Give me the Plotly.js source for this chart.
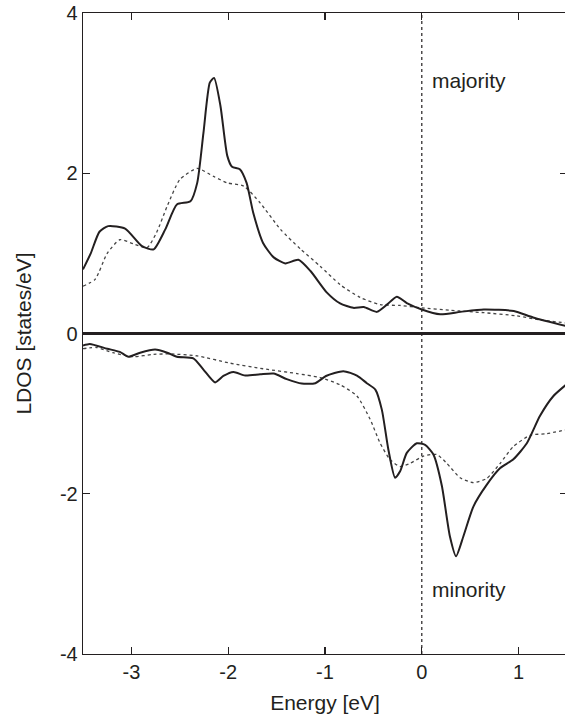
<!DOCTYPE html>
<html>
<head>
<meta charset="utf-8">
<script src="https://cdn.plot.ly/plotly-3.0.1.min.js"></script>
<style>html,body{margin:0;padding:0;overflow:hidden;background:#fff;}#chart{width:568px;height:726px;}</style>
</head>
<body>
<div id="chart"></div>
<script>
// Majority spin, solid curve
const majSolidE = [-3.5,-3.42,-3.33,-3.24,-3.065,-2.89,-2.77,-2.65,-2.53,-2.39,-2.32,-2.256,-2.19,-2.146,-2.08,-2.01,-1.96,-1.88,-1.81,-1.74,-1.64,-1.53,-1.41,-1.275,-1.15,-0.98,-0.844,-0.707,-0.60,-0.465,-0.36,-0.258,-0.155,0,0.19,0.40,0.64,0.95,1.15,1.5];
const majSolidD = [0.80,1.0,1.27,1.34,1.31,1.09,1.05,1.30,1.61,1.65,1.88,2.5,3.13,3.19,2.84,2.22,2.08,2.05,1.88,1.5,1.13,0.95,0.875,0.92,0.78,0.51,0.375,0.32,0.33,0.27,0.36,0.46,0.38,0.30,0.24,0.27,0.30,0.28,0.20,0.09];
// Majority spin, dotted curve
const majDotE = [-3.5,-3.375,-3.25,-3.12,-2.98,-2.84,-2.74,-2.63,-2.50,-2.32,-2.15,-2.01,-1.84,-1.67,-1.46,-1.25,-1.05,-0.844,-0.637,-0.43,-0.224,0,0.29,0.64,0.98,1.22,1.5];
const majDotD = [0.59,0.675,1.0,1.17,1.12,1.07,1.26,1.59,1.92,2.06,1.96,1.88,1.84,1.63,1.30,1.05,0.84,0.61,0.45,0.36,0.35,0.32,0.29,0.26,0.22,0.17,0.13];
// Minority spin, solid curve
const minSolidE = [-3.5,-3.43,-3.25,-3.12,-3.03,-2.91,-2.755,-2.63,-2.53,-2.36,-2.256,-2.135,-2.05,-1.946,-1.825,-1.67,-1.53,-1.395,-1.24,-1.10,-0.99,-0.81,-0.67,-0.568,-0.48,-0.413,-0.345,-0.276,-0.224,-0.155,-0.052,0.034,0.12,0.207,0.29,0.354,0.43,0.533,0.67,0.81,0.946,1.085,1.22,1.36,1.5];
const minSolidD = [-0.15,-0.13,-0.19,-0.23,-0.29,-0.24,-0.20,-0.24,-0.29,-0.31,-0.45,-0.61,-0.53,-0.48,-0.525,-0.51,-0.50,-0.57,-0.625,-0.62,-0.53,-0.47,-0.525,-0.62,-0.70,-0.95,-1.45,-1.80,-1.72,-1.49,-1.37,-1.39,-1.51,-1.90,-2.53,-2.78,-2.53,-2.16,-1.89,-1.68,-1.57,-1.37,-1.03,-0.78,-0.63];
// Minority spin, dotted curve
const minDotE = [-3.5,-3.36,-3.19,-2.98,-2.77,-2.60,-2.32,-1.98,-1.64,-1.29,-1.05,-0.844,-0.67,-0.534,-0.43,-0.327,-0.224,-0.12,0.017,0.155,0.258,0.396,0.533,0.67,0.81,0.946,1.12,1.29,1.5];
const minDotD = [-0.19,-0.175,-0.24,-0.29,-0.26,-0.255,-0.28,-0.37,-0.44,-0.50,-0.55,-0.64,-0.78,-1.07,-1.37,-1.575,-1.66,-1.62,-1.53,-1.51,-1.62,-1.80,-1.86,-1.81,-1.62,-1.41,-1.27,-1.25,-1.20];

const xTicks = [-3,-2,-1,0,1];
const xTickText = ['-3','-2','-1','0','1'];
const yTicks = [-4,-2,0,2,4];
const yTickText = ['-4','-2','0','2','4'];
const FERMI = 0;

const ink = '#231f20';
const solid = {color: ink, width: 2, shape: 'spline', smoothing: 0.6};
const dotted = {color: '#444', width: 1.3, dash: 'dot', shape: 'spline', smoothing: 0.6};

const traces = [
  {x: majDotE, y: majDotD, mode: 'lines', line: dotted},
  {x: minDotE, y: minDotD, mode: 'lines', line: dotted},
  {x: majSolidE, y: majSolidD, mode: 'lines', line: solid},
  {x: minSolidE, y: minSolidD, mode: 'lines', line: solid}
];

const family = 'Liberation Sans, Arial, Helvetica, sans-serif';
const font = {family: family, size: 20, color: ink};
const bigFont = {family: family, size: 21, color: ink};

const layout = {
  width: 568, height: 726,
  margin: {l: 83, r: 1, t: 13, b: 72},
  paper_bgcolor: '#fff', plot_bgcolor: '#fff',
  showlegend: false,
  font: font,
  xaxis: {
    range: [-3.5, 1.5], tickvals: xTicks, ticktext: xTickText,
    ticks: 'inside', ticklen: 7, tickwidth: 1.3, tickcolor: ink,
    showline: true, linecolor: ink, linewidth: 1.3, mirror: 'ticks',
    showgrid: false, zeroline: false,
    tickfont: font,
    title: {text: 'Energy [eV]', font: bigFont, standoff: 13}
  },
  yaxis: {
    range: [-4, 4], tickvals: yTicks, ticktext: yTickText,
    ticks: 'inside', ticklen: 7, tickwidth: 1.3, tickcolor: ink,
    showline: true, linecolor: ink, linewidth: 1.3, mirror: 'ticks',
    showgrid: false, zeroline: true, zerolinecolor: ink, zerolinewidth: 2.2,
    tickfont: font,
    title: {text: 'LDOS [states/eV]', font: bigFont, standoff: 22}
  },
  shapes: [{
    type: 'line', xref: 'x', yref: 'paper', x0: FERMI, x1: FERMI, y0: 0, y1: 1,
    line: {color: ink, width: 1.2, dash: 'dot'}
  }],
  annotations: [
    {x: 0.08, y: 3.16, xref: 'x', yref: 'y', text: 'majority', showarrow: false, xanchor: 'left', yanchor: 'middle', font: bigFont},
    {x: 0.08, y: -3.20, xref: 'x', yref: 'y', text: 'minority', showarrow: false, xanchor: 'left', yanchor: 'middle', font: bigFont}
  ]
};

Plotly.newPlot('chart', traces, layout, {displayModeBar: false, staticPlot: true});
</script>
</body>
</html>
